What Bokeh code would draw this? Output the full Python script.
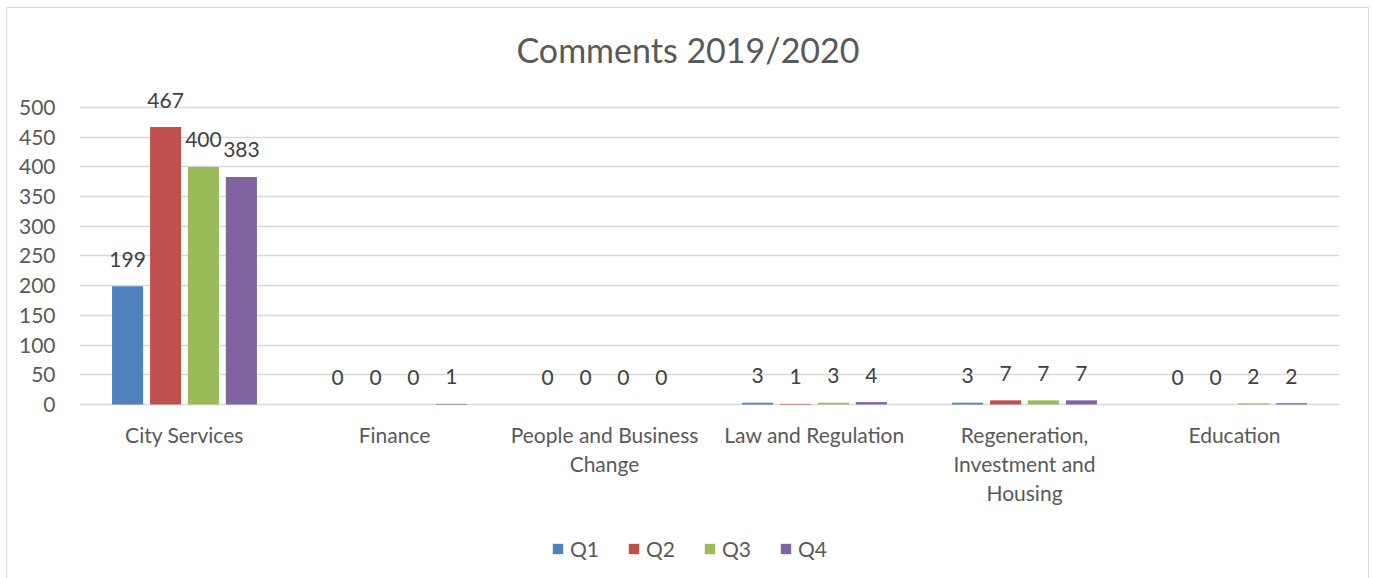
from bokeh.plotting import figure
from bokeh.models import ColumnDataSource, FactorRange, Legend, LegendItem, FixedTicker, LabelSet
from bokeh.transform import dodge
from bokeh.core.properties import value
from bokeh.embed import file_html
from bokeh.resources import INLINE

categories = ["City Services", "Finance", "People and Business Change",
              "Law and Regulation", "Regeneration, Investment and Housing", "Education"]
tick_labels = ["City Services", "Finance", "People and Business\nChange",
               "Law and Regulation", "Regeneration,\nInvestment and\nHousing", "Education"]
series = ["Q1", "Q2", "Q3", "Q4"]
q1 = [199, 0, 0, 3, 3, 0]
q2 = [467, 0, 0, 1, 7, 0]
q3 = [400, 0, 0, 3, 7, 2]
q4 = [383, 1, 0, 4, 7, 2]
y_ticks = [0, 50, 100, 150, 200, 250, 300, 350, 400, 450, 500]

colors = ["#4f81bd", "#c0504d", "#9bbb59", "#8064a2"]
offsets = [-0.271, -0.09, 0.09, 0.271]
FONT = "Lato"
TXT = "#595959"

split = [t.split("\n") for t in tick_labels]
nlines = max(len(s) for s in split)
line_cols = {f"l{k}": [s[k] if k < len(s) else "" for s in split] for k in range(nlines)}

source = ColumnDataSource(dict(cat=categories, zero=[0] * len(categories),
                               Q1=q1, Q2=q2, Q3=q3, Q4=q4,
                               Q1s=[str(v) for v in q1], Q2s=[str(v) for v in q2],
                               Q3s=[str(v) for v in q3], Q4s=[str(v) for v in q4],
                               **line_cols))

p = figure(x_range=FactorRange(*categories), y_range=(-279.46, 545.45),
           width=1363, height=571, output_backend="svg", toolbar_location=None,
           x_axis_location=None,
           min_border_left=72, min_border_right=31, min_border_top=72, min_border_bottom=9)

items = []
for s, c, off in zip(series, colors, offsets):
    r = p.vbar(x=dodge("cat", off, range=p.x_range), top=s, width=0.148, source=source,
               fill_color=c, line_color=None)
    items.append(LegendItem(label=s, renderers=[r]))
    labels = LabelSet(x=dodge("cat", off, range=p.x_range), y=s, text=s + "s", source=source,
                      text_align="center", text_baseline="middle", y_offset=27,
                      text_font=value(FONT), text_font_size="21px", text_color="#404040")
    p.add_layout(labels)

# category axis labels, one centred line each
for k in range(nlines):
    p.add_layout(LabelSet(x="cat", y="zero", text=f"l{k}", source=source,
                          text_align="center", text_baseline="middle", y_offset=-30 - 29 * k,
                          text_font=value(FONT), text_font_size="21px", text_color=TXT))

legend = Legend(items=items, orientation="horizontal", location=(472, 9),
                glyph_width=13, glyph_height=13, label_width=50, spacing=7,
                label_standoff=6, padding=0, margin=0, border_line_color=None,
                background_fill_alpha=0,
                label_text_font=FONT, label_text_font_size="21px", label_text_color=TXT)
p.add_layout(legend, "center")

p.title.text = "Comments 2019/2020"
p.title.align = "left"
p.title.offset = 437
p.title.text_font = FONT
p.title.text_font_size = "34px"
p.title.text_font_style = "normal"
p.title.text_color = TXT
p.title.standoff = 22

p.outline_line_color = None
p.xgrid.grid_line_color = None
p.ygrid.ticker = FixedTicker(ticks=y_ticks)
p.ygrid.grid_line_color = "#d9d9d9"
p.ygrid.grid_line_width = 1.5
p.yaxis.ticker = FixedTicker(ticks=y_ticks)
p.yaxis.axis_line_color = None
p.yaxis.major_tick_line_color = None
p.yaxis.minor_tick_line_color = None
p.yaxis.major_label_standoff = 18
p.yaxis.major_label_text_font = FONT
p.yaxis.major_label_text_font_size = "21px"
p.yaxis.major_label_text_color = TXT
p.x_range.range_padding = 0
p.x_range.group_padding = 0

p.styles = {"border": "1.5px solid #d9d9d9", "border-bottom": "none",
            "box-sizing": "border-box", "margin-left": "6px", "margin-top": "7px"}

open("out.html", "w").write(file_html(p, INLINE))
